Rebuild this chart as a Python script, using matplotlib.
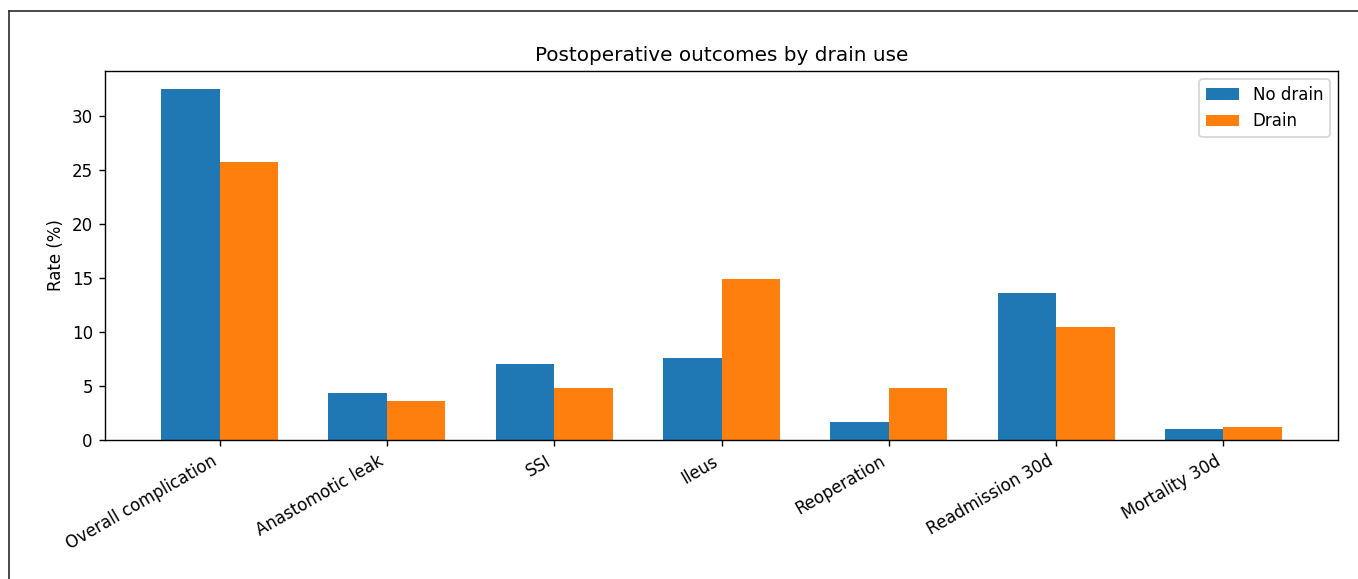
import matplotlib
matplotlib.use("Agg")
import matplotlib.pyplot as plt
from matplotlib.lines import Line2D
import numpy as np

categories = ["Overall complication", "Anastomotic leak", "SSI", "Ileus",
              "Reoperation", "Readmission 30d", "Mortality 30d"]
no_drain = [32.5, 4.35, 7.05, 7.6, 1.65, 13.6, 1.05]
drain = [25.7, 3.6, 4.8, 14.9, 4.8, 10.45, 1.2]
series_labels = ["No drain", "Drain"]

plt.rcParams["font.size"] = 9.6

W, H, DPI = 1358, 579, 125
fig = plt.figure(figsize=(W / DPI, H / DPI), dpi=DPI)
ax = fig.add_axes([105 / W, 1 - 440 / H, (1338 - 105) / W, (440 - 71) / H])

x = np.arange(len(categories))
w = 0.35
ax.bar(x - w / 2, no_drain, w, label=series_labels[0], color="#1f77b4")
ax.bar(x + w / 2, drain, w, label=series_labels[1], color="#ff7f0e")
ax.set_xticks(x)
ax.set_xticklabels(categories, rotation=30, ha="right")
ax.set_ylabel("Rate (%)")
ax.set_title("Postoperative outcomes by drain use")
ax.legend(loc="upper right")

# outer frame of the screenshot
fig.add_artist(Line2D([9 / W, 9 / W], [0, 1 - 11 / H], transform=fig.transFigure,
                      color="#333333", lw=1.0))
fig.add_artist(Line2D([9 / W, 1], [1 - 11 / H, 1 - 11 / H], transform=fig.transFigure,
                      color="#333333", lw=1.0))

fig.savefig("out.png", dpi=DPI)
